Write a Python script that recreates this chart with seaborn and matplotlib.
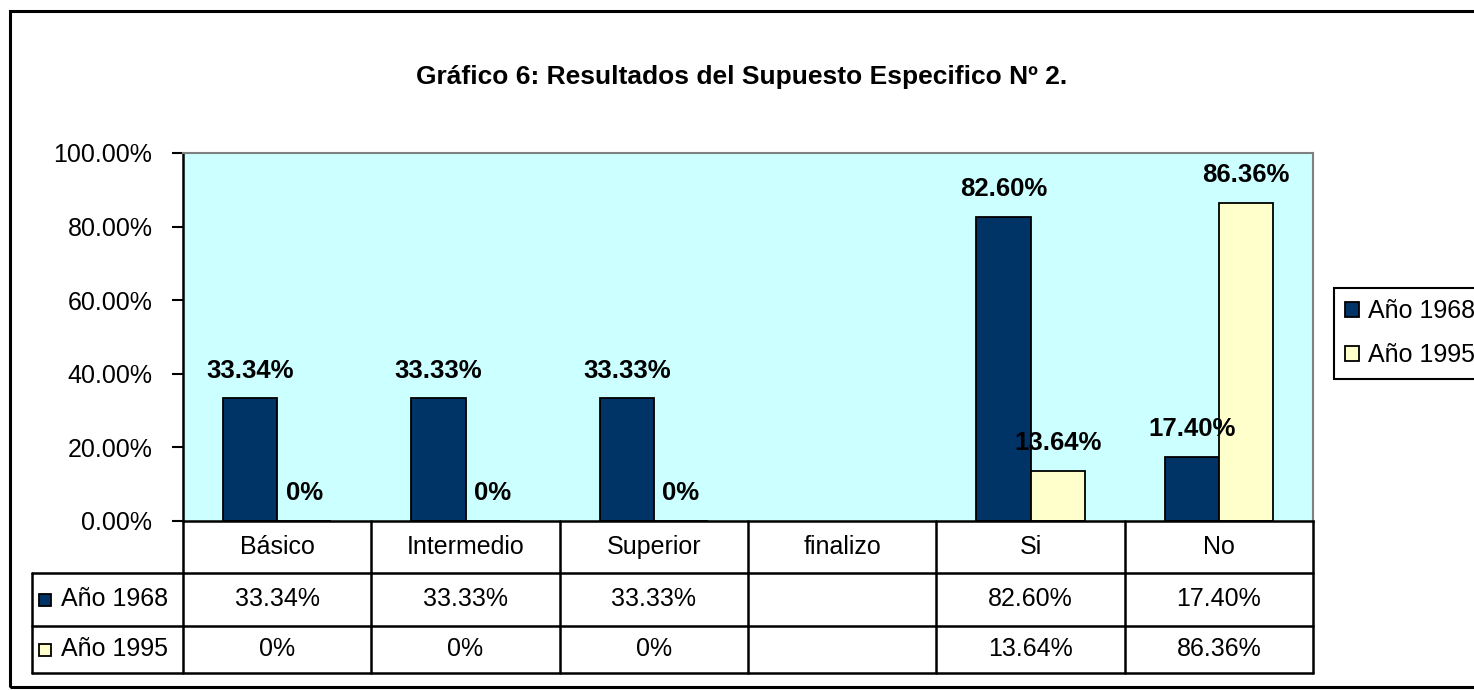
import numpy as np
import pandas as pd
import matplotlib
matplotlib.use("Agg")
import matplotlib.pyplot as plt
from matplotlib.patches import Rectangle
import seaborn as sns

# -----------------------------------------------------
# data
# -----------------------------------------------------
categorias = ["Básico", "Intermedio", "Superior", "finalizo", "Si", "No"]
anio_1968 = [33.34, 33.33, 33.33, np.nan, 82.60, 17.40]
anio_1995 = [0.0, 0.0, 0.0, np.nan, 13.64, 86.36]
series = ["Año 1968", "Año 1995"]
y_ticks = [0, 20, 40, 60, 80, 100]

titulo = "Gráfico 6: Resultados del Supuesto Especifico Nº 2."

NAVY = "#003366"
CREAM = "#FFFFCC"
BG = "#CCFFFF"

df = pd.DataFrame({
    "categoria": categorias * 2,
    "serie": [series[0]] * len(categorias) + [series[1]] * len(categorias),
    "valor": anio_1968 + anio_1995,
})


def fmt(v):
    if pd.isna(v):
        return ""
    if v == 0:
        return "0%"
    return f"{v:.2f}%"


# -----------------------------------------------------
# figure
# -----------------------------------------------------
sns.set_style("white")
plt.rcParams["font.family"] = ["Liberation Sans", "DejaVu Sans"]
plt.rcParams["text.color"] = "black"
plt.rcParams["ytick.color"] = "black"
plt.rcParams["ytick.labelcolor"] = "black"

W, H = 1474, 690
fig = plt.figure(figsize=(W / 100, H / 100), dpi=100)

# outer frame (right side runs off the picture)
fig.patches.append(Rectangle((10 / W, 1 - 687 / H), 1.2, (687 - 11) / H,
                             transform=fig.transFigure, fill=False,
                             edgecolor="black", linewidth=2.2))

ax = fig.add_axes([183 / W, 1 - 521 / H, 1130 / W, 368 / H])
ax.set_facecolor(BG)

sns.barplot(data=df, x="categoria", y="valor", hue="serie",
            order=categorias, hue_order=series,
            palette=[NAVY, CREAM], width=0.575, errorbar=None,
            edgecolor="black", linewidth=1.3, saturation=1, ax=ax)

ax.set_xlim(-0.5, len(categorias) - 0.5)
ax.set_ylim(0, 100)
ax.set_yticks(y_ticks)
ax.set_yticklabels([f"{t:.2f}%" for t in y_ticks], fontsize=18, color="black")
ax.set_xticks([])
ax.set_xlabel("")
ax.set_ylabel("")
ax.tick_params(axis="y", direction="out", length=8, width=1.5,
               pad=14, left=True, color="black")

for side in ["left", "bottom"]:
    ax.spines[side].set_color("black")
    ax.spines[side].set_linewidth(1.8)
for side in ["top", "right"]:
    ax.spines[side].set_color("#808080")
    ax.spines[side].set_linewidth(1.5)

# data labels
for p in ax.patches:
    h = p.get_height()
    if np.isnan(h) or p.get_width() == 0:
        continue
    ax.annotate(fmt(h), (p.get_x() + p.get_width() / 2, h),
                xytext=(0, 20), textcoords="offset points",
                ha="center", va="center", fontsize=18.5, fontweight="bold",
                color="black")

# legend
leg_handles = [Rectangle((0, 0), 1, 1, facecolor=c, edgecolor="black", linewidth=1.3)
               for c in [NAVY, CREAM]]
leg = ax.legend(leg_handles, series, loc="upper left",
                bbox_to_anchor=(1334 / W, 1 - 288 / H), bbox_transform=fig.transFigure,
                fontsize=18, frameon=True, fancybox=False, edgecolor="black",
                framealpha=1, handlelength=0.55, handleheight=0.55,
                handletextpad=0.35, labelspacing=0.8, borderpad=0.45,
                borderaxespad=0)
leg.get_frame().set_linewidth(1.5)
for t in leg.get_texts():
    t.set_color("black")

# -----------------------------------------------------
# data table under the axis
# -----------------------------------------------------
n = len(categorias)
x_left = (32 - 183) / 1130
row_y = [0, (521 - 573) / 368, (521 - 626) / 368, (521 - 673) / 368]
line_kw = dict(transform=ax.transAxes, color="black", linewidth=1.8,
               clip_on=False)

for i in range(n + 1):
    ax.plot([i / n, i / n], [row_y[0], row_y[3]], **line_kw)
ax.plot([x_left, x_left], [row_y[1], row_y[3]], **line_kw)
for y in row_y[1:]:
    ax.plot([x_left, 1], [y, y], **line_kw)

text_kw = dict(transform=ax.transAxes, ha="center", va="center",
               fontsize=18, clip_on=False, color="black")
for i, cat in enumerate(categorias):
    xc = (i + 0.5) / n
    ax.text(xc, (row_y[0] + row_y[1]) / 2, cat, **text_kw)
    ax.text(xc, (row_y[1] + row_y[2]) / 2, fmt(anio_1968[i]), **text_kw)
    ax.text(xc, (row_y[2] + row_y[3]) / 2, fmt(anio_1995[i]), **text_kw)

# row headers with colour keys
sq_w = 12 / 1130
sq_h = 12 / 368
for r, (name, col) in enumerate(zip(series, [NAVY, CREAM])):
    yc = (row_y[r + 1] + row_y[r + 2]) / 2
    ax.add_patch(Rectangle(((39 - 183) / 1130, yc - sq_h / 2), sq_w, sq_h,
                           transform=ax.transAxes, facecolor=col,
                           edgecolor="black", linewidth=1.3, clip_on=False))
    ax.text((61 - 183) / 1130, yc, name, transform=ax.transAxes,
            ha="left", va="center", fontsize=18, clip_on=False, color="black")

fig.text(742 / W, 1 - 77 / H, titulo, ha="center", va="center",
         fontsize=19, fontweight="bold", color="black")

fig.savefig("out.png", dpi=100)
